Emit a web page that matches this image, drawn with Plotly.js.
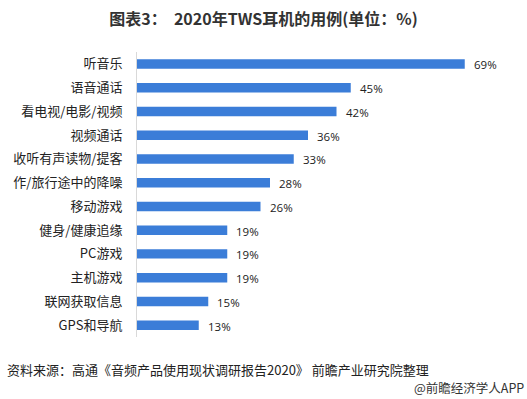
<!DOCTYPE html>
<html><head><meta charset="utf-8">
<script src="https://cdn.plot.ly/plotly-3.0.1.min.js"></script>
<style>html,body{margin:0;padding:0;background:#fff}#c{width:527px;height:399px}</style>
</head><body><div id="c"></div>
<script>
const categories = ["听音乐","语音通话","看电视/电影/视频","视频通话","收听有声读物/提客","作/旅行途中的降噪","移动游戏","健身/健康追缘","PC游戏","主机游戏","联网获取信息","GPS和导航"];
const values = [69,45,42,36,33,28,26,19,19,19,15,13];
const valueLabels = values.map(v => v + "%");
const titleText = "图表3：  2020年TWS耳机的用例(单位：%)";
const sourceText = "资料来源：高通《音频产品使用现状调研报告2020》 前瞻产业研究院整理";
const creditText = "@前瞻经济学人APP";

const font = "'Noto Sans CJK SC', 'Microsoft YaHei', sans-serif";
const trace = {
  type: "bar", orientation: "h",
  y: categories, x: values,
  marker: {color: "#3b7dd8"},
  hoverinfo: "none"
};
const labelAnns = categories.map((c, i) => ({
  x: values[i], y: c, xref: "x", yref: "y", text: valueLabels[i],
  xanchor: "left", yanchor: "middle", xshift: 7, yshift: -1, showarrow: false,
  font: {family: "'Open Sans', sans-serif", size: 11.5, color: "#222"}
}));
const layout = {
  width: 527, height: 399,
  margin: {l: 137, r: 10, t: 52, b: 62},
  paper_bgcolor: "#fff", plot_bgcolor: "#fff",
  showlegend: false,
  bargap: 0.6,
  title: {text: "<b>" + titleText + "</b>", x: 0.5, xanchor: "center", y: 0.952, yanchor: "middle",
          font: {family: font, size: 16, color: "#333"}},
  xaxis: {range: [0, 80], visible: false, fixedrange: true},
  yaxis: {autorange: "reversed", showline: true, linecolor: "#d9d9d9", linewidth: 1,
          showgrid: false, ticks: "", ticklen: 0, ticklabelstandoff: 11,
          tickfont: {family: font, size: 13, color: "#222"}, fixedrange: true},
  annotations: labelAnns.concat([
    {text: sourceText, xref: "paper", yref: "paper", x: -137/380, y: 0, xanchor: "left", yanchor: "middle",
     xshift: 5, yshift: -32, showarrow: false, font: {family: font, size: 13, color: "#222"}},
    {text: creditText, xref: "paper", yref: "paper", x: 1, y: 0, xanchor: "right", yanchor: "middle",
     xshift: 9, yshift: -50, showarrow: false, font: {family: font, size: 12.5, color: "#333"}}
  ])
};
Plotly.newPlot("c", [trace], layout, {displayModeBar: false, staticPlot: true});
</script></body></html>
